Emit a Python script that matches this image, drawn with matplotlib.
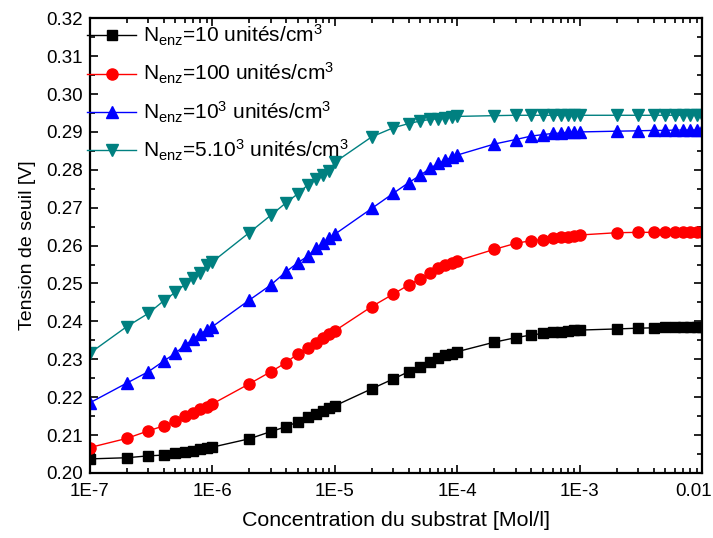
import numpy as np
import matplotlib
matplotlib.use("Agg")
import matplotlib.pyplot as plt
from matplotlib.ticker import (FixedLocator, FixedFormatter, MultipleLocator,
                               LogLocator, NullFormatter, FormatStrFormatter)
from matplotlib.transforms import ScaledTranslation

plt.rcParams['font.family'] = ['Liberation Sans', 'DejaVu Sans']
plt.rcParams['mathtext.fontset'] = 'custom'
plt.rcParams['mathtext.rm'] = 'Liberation Sans'
plt.rcParams['mathtext.it'] = 'Liberation Sans'

# substrate concentrations: 1..9 x each decade from 1e-7 to 1e-3, then 1e-2
concentration = [m * 10.0 ** e for e in range(-7, -2) for m in range(1, 10)] + [1e-2]

v_10 = [0.2037, 0.2040, 0.2045, 0.2047, 0.2052, 0.2056, 0.2059, 0.2062, 0.2065,
        0.2068, 0.2090, 0.2109, 0.2122, 0.2135, 0.2147, 0.2156, 0.2164, 0.2171,
        0.2177, 0.2222, 0.2248, 0.2267, 0.2280, 0.2292, 0.2302, 0.2310, 0.2315,
        0.2320, 0.2345, 0.2357, 0.2364, 0.2368, 0.2371, 0.2373, 0.2375, 0.2376,
        0.2377, 0.2380, 0.2382, 0.2383, 0.2384, 0.2385, 0.2385, 0.2386, 0.2386,
        0.2386]
v_100 = [0.2067, 0.2091, 0.2111, 0.2124, 0.2138, 0.2150, 0.2159, 0.2168, 0.2175,
         0.2182, 0.2235, 0.2267, 0.2291, 0.2315, 0.2329, 0.2342, 0.2355, 0.2367,
         0.2375, 0.2439, 0.2472, 0.2496, 0.2513, 0.2527, 0.2540, 0.2549, 0.2553,
         0.2560, 0.2590, 0.2606, 0.2613, 0.2616, 0.2620, 0.2622, 0.2624, 0.2625,
         0.2628, 0.2634, 0.2635, 0.2635, 0.2636, 0.2636, 0.2636, 0.2636, 0.2636,
         0.2636]
v_1000 = [0.2185, 0.2237, 0.2267, 0.2295, 0.2316, 0.2338, 0.2353, 0.2367, 0.2377,
          0.2386, 0.2456, 0.2496, 0.2531, 0.2555, 0.2572, 0.2593, 0.2606, 0.2619,
          0.2630, 0.2698, 0.2738, 0.2766, 0.2786, 0.2804, 0.2817, 0.2825, 0.2833,
          0.2839, 0.2868, 0.2880, 0.2889, 0.2893, 0.2896, 0.2897, 0.2899, 0.2900,
          0.2900, 0.2902, 0.2903, 0.2904, 0.2904, 0.2905, 0.2905, 0.2905, 0.2905,
          0.2905]
v_5000 = [0.2316, 0.2386, 0.2421, 0.2454, 0.2477, 0.2498, 0.2515, 0.2527, 0.2549,
          0.2557, 0.2634, 0.2680, 0.2713, 0.2737, 0.2760, 0.2775, 0.2786, 0.2796,
          0.2820, 0.2887, 0.2911, 0.2922, 0.2929, 0.2933, 0.2935, 0.2938, 0.2940,
          0.2941, 0.2943, 0.2944, 0.2944, 0.2944, 0.2944, 0.2944, 0.2944, 0.2944,
          0.2944, 0.2944, 0.2944, 0.2944, 0.2944, 0.2944, 0.2944, 0.2944, 0.2944,
          0.2944]

x_ticks = [1e-7, 1e-6, 1e-5, 1e-4, 1e-3, 1e-2]
x_tick_labels = ["1E-7", "1E-6", "1E-5", "1E-4", "1E-3", "0.01"]

series = [
    (v_10, 'black', 's', 7.0, r'$\mathregular{N_{enz}}$=10 unités/cm$\mathregular{^3}$'),
    (v_100, 'red', 'o', 8.0, r'$\mathregular{N_{enz}}$=100 unités/cm$\mathregular{^3}$'),
    (v_1000, 'blue', '^', 8.5, r'$\mathregular{N_{enz}}$=10$\mathregular{^3}$ unités/cm$\mathregular{^3}$'),
    (v_5000, '#008080', 'v', 8.5, r'$\mathregular{N_{enz}}$=5.10$\mathregular{^3}$ unités/cm$\mathregular{^3}$'),
]

fig = plt.figure(figsize=(7.13, 5.38), dpi=100)
ax = fig.add_axes([0.126, 0.121, 0.859, 0.845])

for vals, color, marker, ms, label in series:
    ax.plot(concentration, vals, color=color, marker=marker, markersize=ms,
            linewidth=1.0, label=label)

ax.set_xscale('log')
ax.set_xlim(1e-7, 1e-2)
ax.set_ylim(0.20, 0.32)
ax.xaxis.set_major_locator(FixedLocator(x_ticks))
ax.xaxis.set_major_formatter(FixedFormatter(x_tick_labels))
ax.xaxis.set_minor_locator(LogLocator(base=10, subs=np.arange(2, 10)))
ax.xaxis.set_minor_formatter(NullFormatter())
ax.yaxis.set_major_locator(MultipleLocator(0.01))
ax.yaxis.set_minor_locator(MultipleLocator(0.005))
ax.yaxis.set_major_formatter(FormatStrFormatter('%.2f'))

ax.tick_params(which='both', direction='in', top=True, right=True, width=1.2,
               labelsize=13.5)
ax.tick_params(which='major', length=6)
ax.tick_params(which='minor', length=3.5)
ax.tick_params(axis='x', pad=7)
ax.tick_params(axis='y', pad=5)
for sp in ax.spines.values():
    sp.set_linewidth(1.6)

# keep the last x label inside the canvas
last = ax.xaxis.get_major_ticks()[-1].label1
last.set_horizontalalignment('right')
last.set_transform(last.get_transform() + ScaledTranslation(0.10, 0, fig.dpi_scale_trans))

ax.set_xlabel('Concentration du substrat [Mol/l]', fontsize=15.4, labelpad=8)
ax.set_ylabel('Tension de seuil [V]', fontsize=14, labelpad=7)

ax.legend(loc='upper left', bbox_to_anchor=(-0.004, 0.99), frameon=False,
          fontsize=15, handlelength=2.35, handletextpad=0.3, labelspacing=0.63,
          borderaxespad=0.0, borderpad=0.0)

fig.savefig('out.png', dpi=100)
